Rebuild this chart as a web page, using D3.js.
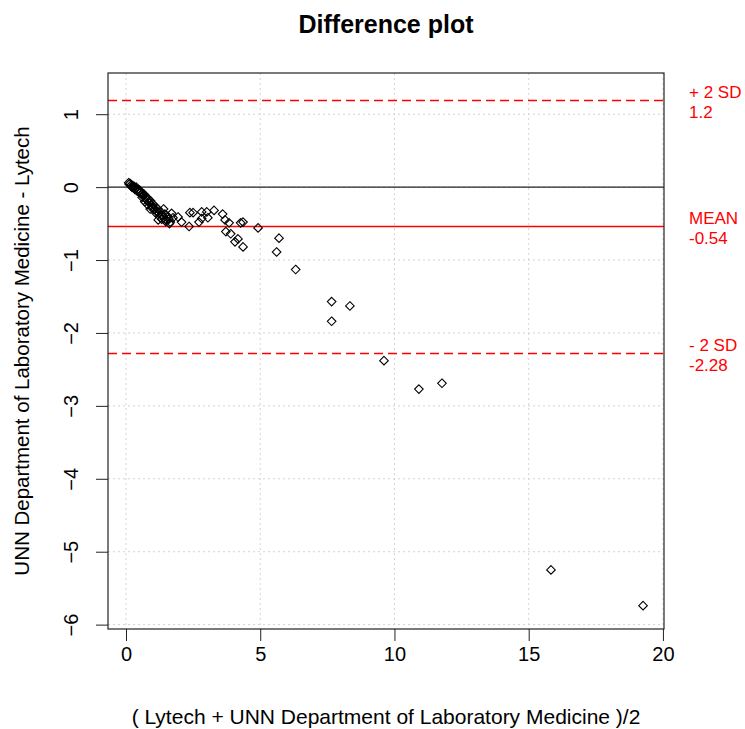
<!DOCTYPE html>
<html>
<head>
<meta charset="utf-8">
<script src="https://cdn.jsdelivr.net/npm/d3@7"></script>
<style>
    body { margin: 0; background: #fff; }
    svg { font-family: "Liberation Sans", Arial, sans-serif; }
</style>
</head>
<body>
<div class="graph"></div>
<script>
// data ------------------------------------------
const avgVals = [
    0.10, 0.12, 0.15, 0.18, 0.20, 0.22, 0.25, 0.28, 0.30, 0.33, 0.35, 0.38, 0.40,
    0.43, 0.46, 0.50, 0.52, 0.55, 0.58, 0.62, 0.65, 0.68, 0.72, 0.75, 0.78, 0.82,
    0.85, 0.88, 0.92, 0.95, 1.00, 1.02, 1.05, 1.10, 1.15, 1.18, 1.22, 1.25, 1.30,
    1.35, 1.40, 1.45, 1.50, 1.55, 1.60, 1.65, 1.75, 0.90, 1.20, 0.60, 0.70, 1.40,
    1.70, 1.94, 2.07, 2.35, 2.38, 2.50, 2.72, 2.82, 2.82, 3.01, 3.05, 3.28, 3.60,
    3.69, 3.84, 3.72, 3.90, 4.06, 4.17, 4.36, 4.27, 4.36, 4.92, 5.70, 5.61, 6.32,
    7.66, 8.34, 7.66, 9.61, 10.91, 11.77, 15.83, 19.26,
    1.62, 1.48, 1.33, 1.12, 0.98, 0.80
]
const diffVals = [
    0.06, 0.04, 0.05, 0.02, 0.03, 0.00, 0.02, -0.01, 0.01, -0.03, -0.02, 0.00, -0.05,
    -0.03, -0.06, -0.04, -0.08, -0.07, -0.10, -0.09, -0.12, -0.10, -0.15, -0.13, -0.18, -0.16,
    -0.20, -0.22, -0.19, -0.25, -0.23, -0.28, -0.31, -0.27, -0.33, -0.30, -0.36, -0.40, -0.34,
    -0.38, -0.42, -0.37, -0.45, -0.40, -0.44, -0.48, -0.42, -0.30, -0.45, -0.14, -0.20, -0.30,
    -0.36, -0.41, -0.48, -0.54, -0.35, -0.35, -0.48, -0.34, -0.43, -0.34, -0.42, -0.32, -0.37,
    -0.45, -0.49, -0.61, -0.64, -0.75, -0.71, -0.82, -0.49, -0.48, -0.56, -0.70, -0.89, -1.13,
    -1.57, -1.63, -1.84, -2.38, -2.77, -2.69, -5.25, -5.74,
    -0.50, -0.47, -0.44, -0.36, -0.29, -0.24
]
const xTicks = [0, 5, 10, 15, 20]
const yTicks = [1, 0, -1, -2, -3, -4, -5, -6]
const xLimits = [-0.67, 20.04]
const yLimits = [-6.06, 1.565]
const refLines = [
    { name: '+ 2 SD', value: 1.2, label: '1.2', dashed: true },
    { name: 'MEAN', value: -0.54, label: '-0.54', dashed: false },
    { name: '- 2 SD', value: -2.28, label: '-2.28', dashed: true }
]

// config
const w = 745
const h = 729
const box = { left: 108, right: 664, top: 73, bottom: 629 }
const red = '#ff0000'

const ds = avgVals.map((a, i) => ({ avg: a, diff: diffVals[i] }))

const xScale = d3.scaleLinear().domain(xLimits).range([box.left, box.right])
const yScale = d3.scaleLinear().domain(yLimits).range([box.bottom, box.top])

const svg = d3.select('.graph')
    .append('svg')
    .attr('width', w)
    .attr('height', h)
    .attr('viewBox', '0 0 ' + w + ' ' + h)

// grid
const grid = svg.append('g').attr('class', 'grid')
grid.selectAll('line.vgrid')
    .data(xTicks)
    .join('line')
    .attr('class', 'vgrid')
    .attr('x1', d => xScale(d)).attr('x2', d => xScale(d))
    .attr('y1', box.top).attr('y2', box.bottom)
grid.selectAll('line.hgrid')
    .data(yTicks)
    .join('line')
    .attr('class', 'hgrid')
    .attr('x1', box.left).attr('x2', box.right)
    .attr('y1', d => yScale(d)).attr('y2', d => yScale(d))
grid.selectAll('line')
    .attr('stroke', '#d3d3d3')
    .attr('stroke-width', 1)
    .attr('stroke-dasharray', '2,3')

// zero line
svg.append('line')
    .attr('x1', box.left).attr('x2', box.right)
    .attr('y1', yScale(0)).attr('y2', yScale(0))
    .attr('stroke', '#222')
    .attr('stroke-width', 1.2)

// mean and limits
svg.append('g').attr('id', 'ref-lines')
    .selectAll('line')
    .data(refLines)
    .join('line')
    .attr('x1', box.left).attr('x2', box.right)
    .attr('y1', d => Math.round(yScale(d.value)) + 0.5)
    .attr('y2', d => Math.round(yScale(d.value)) + 0.5)
    .attr('stroke', red)
    .attr('stroke-width', d => d.dashed ? 1.5 : 1.3)
    .attr('stroke-dasharray', d => d.dashed ? '9,5' : null)

// points (open diamonds)
const r = 4.3
svg.append('g').attr('id', 'graph-points')
    .selectAll('path.point')
    .data(ds)
    .join('path')
    .attr('class', 'point')
    .attr('d', d => {
        const cx = xScale(d.avg), cy = yScale(d.diff)
        return 'M' + cx + ',' + (cy - r) + 'L' + (cx + r) + ',' + cy +
            'L' + cx + ',' + (cy + r) + 'L' + (cx - r) + ',' + cy + 'Z'
    })
    .attr('fill', 'none')
    .attr('stroke', '#000')
    .attr('stroke-width', 1.1)

// axes
const xAxis = d3.axisBottom(xScale).tickValues(xTicks).tickSize(12).tickSizeOuter(0).tickPadding(6)
const yAxis = d3.axisLeft(yScale).tickValues(yTicks).tickSize(12).tickSizeOuter(0)

const gx = svg.append('g')
    .attr('class', 'axis')
    .attr('transform', 'translate(0,' + box.bottom + ')')
    .call(xAxis)
gx.select('.domain').remove()
gx.selectAll('text').attr('font-size', 20).attr('fill', '#000')

const gy = svg.append('g')
    .attr('class', 'axis')
    .attr('transform', 'translate(' + box.left + ',0)')
    .call(yAxis)
gy.select('.domain').remove()
gy.selectAll('text')
    .attr('font-size', 20)
    .attr('fill', '#000')
    .attr('text-anchor', 'middle')
    .attr('dy', 0)
    .attr('x', 0)
    .attr('transform', 'translate(-30,0) rotate(-90)')
svg.selectAll('.axis .tick line').attr('stroke', '#222')

// box
svg.append('rect')
    .attr('x', box.left).attr('y', box.top)
    .attr('width', box.right - box.left).attr('height', box.bottom - box.top)
    .attr('fill', 'none')
    .attr('stroke', '#222')
    .attr('stroke-width', 1.2)

// right-hand labels
const labs = svg.append('g').attr('id', 'ref-labels')
labs.selectAll('text.ref-name')
    .data(refLines)
    .join('text')
    .attr('class', 'ref-name')
    .attr('x', 689)
    .attr('y', d => yScale(d.value) - 2)
    .text(d => d.name)
labs.selectAll('text.ref-value')
    .data(refLines)
    .join('text')
    .attr('class', 'ref-value')
    .attr('x', 689)
    .attr('y', d => yScale(d.value) + 18)
    .text(d => d.label)
labs.selectAll('text')
    .attr('fill', red)
    .attr('font-size', 17)

// titles
svg.append('text')
    .attr('x', (box.left + box.right) / 2)
    .attr('y', 33)
    .attr('text-anchor', 'middle')
    .attr('font-size', 25)
    .attr('font-weight', 'bold')
    .text('Difference plot')

svg.append('text')
    .attr('x', (box.left + box.right) / 2)
    .attr('y', 724)
    .attr('text-anchor', 'middle')
    .attr('font-size', 21)
    .text('( Lytech + UNN Department of Laboratory Medicine )/2')

svg.append('text')
    .attr('transform', 'translate(29,' + (box.top + box.bottom) / 2 + ') rotate(-90)')
    .attr('text-anchor', 'middle')
    .attr('font-size', 20.5)
    .text('UNN Department of Laboratory Medicine - Lytech')
</script>
</body>
</html>
